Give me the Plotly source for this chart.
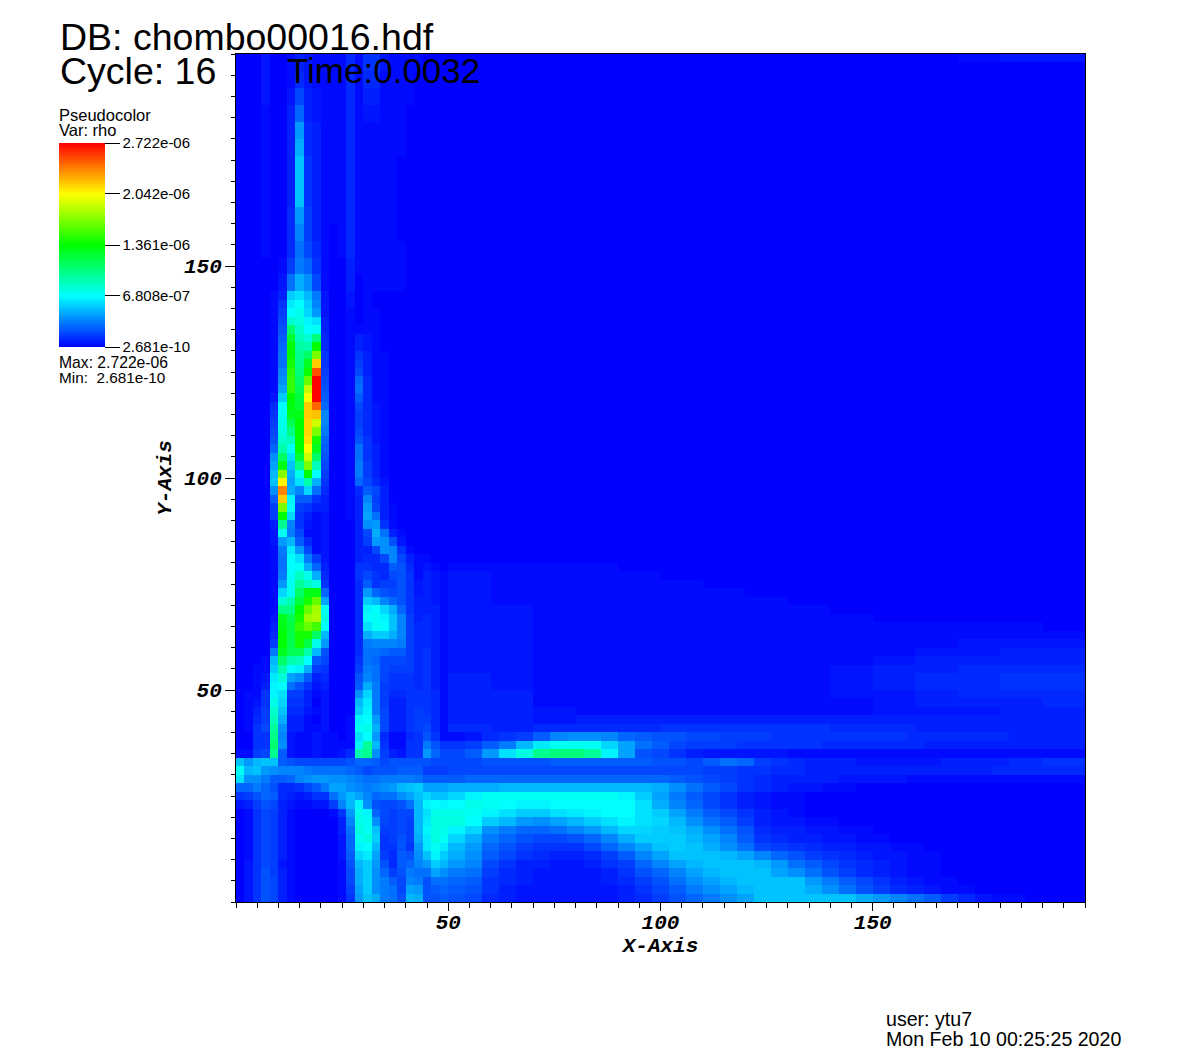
import numpy as np
import plotly.graph_objects as go

RHO_MIN = 2.681e-10
RHO_MAX = 2.722e-06
TICK_TEXT = ["2.681e-10", "6.808e-07", "1.361e-06", "2.042e-06", "2.722e-06"]
AXIS_TICKS = [50, 100, 150]

UPPER_LEFT = [
[0,0,0,2,0,0,1,3,2,1,1,1,1,4,1,5,5,2,1,1,1,1],
[0,0,0,2,0,0,1,4,2,1,1,1,1,4,1,4,4,1,1,1,1],
[0,0,0,2,0,0,2,7,3,2,1,1,1,4,1,3,3,1,1,1,1],
[0,0,0,1,0,0,3,10,3,2,1,1,1,4,1,2,2,1,1,1],
[0,0,0,1,0,0,3,15,4,3,1,1,1,4,1,1,1,1,1,1],
[0,0,0,1,0,0,3,17,4,3,1,1,1,4,1,1,1,1,1,1],
[0,0,0,1,0,0,3,19,5,3,1,1,1,4,1,1,1,1,1],
[0,0,0,1,0,0,3,19,5,3,1,1,1,4,1,1,1,1,1],
[0,0,0,1,0,0,3,19,5,3,1,1,1,4,1,1,1,1,1],
[0,0,0,1,0,0,4,15,6,3,1,1,1,4,1,1,1,1,1],
[0,0,0,1,0,0,4,13,6,3,1,0,1,4,1,1,1,1,1],
[0,0,0,1,0,0,4,11,7,4,1,0,1,4,1,1,1,1,1,1],
[0,0,0,0,0,1,6,12,10,5,1,0,0,3,1,1,1,1,1,1],
[0,0,0,0,0,2,11,17,14,7,1,0,0,3,0,1,1,1,1,1],
[0,0,0,0,1,3,20,22,18,12,2,0,0,2,0,1],
[0,0,0,0,1,5,23,25,20,13,2,0,0,2,0,1],
[0,0,0,0,1,6,25,27,21,15,2,0,0,1,0,1,1],
[0,0,0,0,1,7,30,28,24,22,3,0,0,1,0,1,1],
[0,0,0,0,1,8,39,30,25,26,3,0,0,1,1,1,1],
[0,0,0,0,1,9,45,32,29,38,4,0,0,1,3,2,1],
[0,0,0,0,1,10,50,34,33,50,4,0,0,1,3,2,1],
[0,0,0,0,1,11,50,36,40,62,5,0,0,1,5,3,1,1],
[0,0,0,0,1,11,52,37,47,80,5,0,0,1,6,3,1,1],
[0,0,0,0,1,13,54,38,51,92,6,0,0,1,7,3,1,1],
[0,0,0,0,1,14,55,40,60,100,7,0,0,1,10,4,1,1],
[0,0,0,0,1,16,55,42,69,100,8,0,0,1,11,4,1,1],
[0,0,0,0,2,20,50,44,74,100,9,0,0,1,9,4,1,1],
[0,0,0,0,4,25,49,45,80,90,10,0,0,1,7,4,2,1],
[0,0,0,0,5,26,47,48,80,81,13,0,0,1,6,4,2,1],
[0,0,0,0,6,27,42,50,79,70,13,0,0,1,6,4,2,1],
[0,0,0,0,7,28,37,50,79,62,12,0,0,1,7,4,2,1],
[0,0,0,0,8,30,32,50,78,52,10,0,0,1,8,5,2,1],
[0,0,0,0,10,33,26,50,75,47,9,0,0,1,11,5,3,1],
[0,0,0,0,14,40,22,45,70,40,8,0,0,1,11,5,3,1],
[0,0,0,0,16,48,19,37,62,32,7,0,0,1,12,6,3,1],
[0,0,0,0,18,63,17,27,50,25,6,0,0,1,12,6,3,1],
[0,0,0,0,19,76,16,22,33,17,5,0,0,1,10,7,4,2],
[0,0,0,0,14,87,17,13,21,11,4,0,0,1,4,9,7,3],
[0,0,0,0,9,80,24,9,9,5,3,0,0,1,3,13,6,3],
[0,0,0,0,6,62,25,6,5,3,3,0,0,1,3,15,7,3,1],
[0,0,0,0,6,50,21,5,3,1,2,0,0,1,3,16,11,3,1],
[0,0,0,0,3,36,13,5,2,1,2,0,0,0,3,14,15,5,1],
[0,0,0,0,2,26,12,7,1,1,2,0,0,0,3,7,17,11,3,1],
[0,0,0,0,2,15,18,9,4,1,2,0,0,0,3,6,15,14,8,2],
[0,0,0,0,1,12,23,15,7,1,2,0,0,0,3,3,7,14,13,5,1],
[0,0,0,0,1,11,25,22,12,6,2,0,0,0,3,4,4,7,13,7,3,1,1],
[0,0,0,0,1,11,25,26,17,10,3,0,0,0,5,5,4,4,9,8,4,1,2,1],
[0,0,0,0,1,12,26,31,27,17,4,0,0,0,5,7,5,4,7,8,5,1,3,2,1],
[0,0,0,0,1,15,26,35,31,28,5,0,0,0,4,9,5,6,6,8,5,2,3,2,1],
[0,0,0,0,1,21,26,40,48,48,10,0,0,0,4,15,10,8,7,8,5,2,3,2,1],
[0,0,0,0,1,29,33,44,52,60,16,0,0,0,4,20,18,13,10,8,5,3,3,2,1],
[0,0,0,0,1,37,37,50,60,66,26,0,0,0,4,24,25,21,17,10,5,3,3,3,1],
[0,0,0,0,2,47,42,52,65,67,28,0,0,0,4,25,26,24,19,13,6,3,4,3,1],
[0,0,0,0,3,48,44,55,60,56,25,0,0,0,4,22,26,25,19,13,6,4,4,3,1],
[0,0,0,0,4,50,43,52,52,40,18,0,0,0,4,17,20,20,17,13,6,4,4,3,1],
[0,0,0,0,6,50,42,52,43,27,15,0,0,0,4,12,13,13,13,12,6,4,4,3,1],
[0,0,0,0,12,47,42,42,33,18,8,0,0,0,4,11,11,10,9,9,6,4,5,3,1],
[0,0,0,1,18,40,33,32,25,9,7,0,0,0,5,11,10,7,7,7,6,4,5,3,1],
[0,0,1,1,20,33,25,24,17,6,5,0,0,0,6,12,11,7,6,6,6,4,5,3,1],
[0,0,1,2,23,29,16,14,9,3,4,0,0,0,8,13,11,7,5,5,5,4,5,3,1],
[0,0,1,3,24,25,11,8,5,2,3,0,0,0,9,17,12,6,5,5,5,4,5,3,1],
[0,1,1,5,24,22,6,6,3,1,2,0,0,0,14,21,12,6,4,4,5,5,5,4,1],
[0,1,2,5,27,21,5,5,3,0,2,0,0,0,18,23,12,6,3,3,5,5,5,4,1],
[0,1,3,6,30,19,4,4,2,1,2,0,0,0,20,24,12,7,3,3,5,6,5,4,1],
[0,1,4,6,32,17,3,3,1,0,2,0,0,1,24,25,15,7,3,3,5,6,6,4,1],
[0,1,5,7,35,14,3,3,1,1,2,0,0,1,26,27,17,7,3,3,5,6,7,4,1],
]

UPPER_RIGHT = [
[0,0,0,0,0,0,0,0,0,0,0,0,1,2,2],
[0],
[0],
[1,1,1,1],
[2,1,1,1,1],
[2,1,1,1,1,1],
[2,1,1,1,1,1,1],
[2,1,1,1,1,1,1,1],
[2,2,1,1,1,1,1,1,1],
[2,2,1,1,1,1,1,1,1,1],
[2,2,1,1,1,1,1,1,1,1,1,1,1,1],
[2,2,1,1,1,1,1,1,1,1,1,1,1,1,1],
[2,2,1,1,1,1,1,1,1,1,1,1,2,2,2],
[2,2,1,1,1,1,1,1,1,1,1,2,2,3,3],
[2,2,1,1,1,1,1,1,1,1,2,3,3,3,3],
[2,2,1,1,1,1,1,1,1,2,3,3,4,4,4],
[3,2,1,1,1,1,1,1,1,2,3,4,4,5,5],
[3,2,1,1,1,1,1,1,1,2,3,4,4,5,5],
[3,3,1,1,1,1,1,1,1,2,2,3,4,4,4],
[3,3,1,1,1,1,1,1,1,1,2,3,3,3,4],
[3,3,2,1,1,1,1,1,1,1,2,2,2,3,3],
[3,3,2,3,3,3,3,3,3,3,3,3,3,3,3],
[4,3,4,4,4,5,5,5,5,4,4,3,3,3,3],
]

BOTTOM_LEFT = [
[0,0,5,5,37,13,2,1,1,2,1,1,0,1,22,25,15,4,1,1,4,5,8,5,1],
[0,0,5,5,39,14,2,1,1,2,1,1,1,1,24,35,18,5,1,1,5,5,12,8,5],
[1,1,6,7,36,9,2,1,1,2,1,1,2,4,33,36,14,6,3,2,5,5,15,10,7],
[19,15,18,19,19,9,8,7,7,7,7,7,7,8,10,10,9,7,8,8,8,8,8,7,7],
[26,18,19,15,14,13,13,13,12,11,11,11,11,10,9,7,8,8,8,9,9,9,6,6,6],
[22,14,14,12,9,9,10,13,14,15,15,14,14,13,12,11,11,12,12,12,12,11,9,9,9],
[10,10,12,10,8,4,4,5,7,9,12,16,16,14,13,12,13,14,15,18,19,20,16,16,16],
[5,6,8,10,9,4,3,2,3,5,5,11,15,18,16,13,10,11,11,14,16,19,21,19,19],
[2,3,6,8,7,3,2,1,1,2,2,6,13,18,24,14,8,7,7,8,11,18,24,25,24],
[0,1,5,7,6,3,1,0,0,0,0,1,5,15,27,24,10,7,6,7,7,18,22,27,27],
[0,1,5,7,6,3,1,0,0,0,0,0,3,13,27,26,14,7,6,7,6,18,23,28,28],
[0,1,5,7,6,3,1,0,0,0,0,0,3,11,28,26,19,6,6,7,6,18,24,28,27],
[0,1,5,7,6,3,1,0,0,0,0,0,2,10,26,28,20,5,6,8,6,17,23,28,26],
[0,1,5,7,6,3,1,0,0,0,0,0,2,10,24,25,18,5,5,8,5,15,23,26,23],
[0,1,5,7,6,3,1,0,0,0,0,0,2,9,21,23,16,6,4,9,8,14,19,24,20],
[0,2,5,7,6,2,1,0,0,0,0,0,1,8,18,20,15,8,4,9,10,13,15,20,18],
[0,2,5,8,6,3,1,0,0,0,0,0,1,7,17,20,14,10,6,8,12,11,11,16,14],
[0,2,5,8,7,3,1,0,0,0,0,0,1,7,17,20,14,12,9,7,13,12,8,11,11],
[0,2,5,8,7,3,1,0,0,0,0,0,1,6,16,20,14,12,11,7,16,15,8,9,10],
[0,2,5,8,7,3,1,0,0,0,0,0,1,5,15,19,17,12,11,8,18,17,8,8,9],
]

BOTTOM_RIGHT = [
[1,2,4,5,6,9,13,14,14,13,10,9,8,8,7,7,6,6,6,5,5,5,5,5,5,5,5,4,4,4,4,4,4,3,3,3],
[5,6,9,12,18,23,26,26,26,21,16,11,9,7,6,6,6,5,5,5,5,5,4,4,4,4,4,4,3,3,3,3,3,3,3,3],
[7,9,15,22,28,36,38,38,35,24,16,8,7,5,3,2,2,2,2,2,1,1,1,1,1,1,1,1,1,1,1,1,1,1,1,1],
[7,7,8,8,8,8,9,9,9,9,9,9,8,8,7,9,11,10,6,5,4,3,3,3,2,2,2,2,2,3,3,3,3,4,4,5],
[7,7,7,7,7,7,7,7,7,7,7,7,7,7,7,6,6,5,5,4,4,3,3,3,3,3,3,3,3,3,3,3,4,4,4,4],
[9,10,10,10,10,10,10,10,10,10,10,10,10,9,8,7,6,5,4,3,3,3,3,2,2,2,2,1,1,1,1,1,1,1,1,1],
[17,17,17,18,18,18,18,18,18,18,18,18,17,14,11,9,7,5,4,3,2,2,1,1],
[21,24,26,26,26,26,26,26,26,26,24,20,16,12,9,7,5,3,2,1,1],
[25,27,26,25,24,24,25,25,25,25,25,22,17,13,10,7,5,3,2,1,1],
[27,26,24,22,20,20,22,23,24,25,25,22,20,16,12,9,7,5,3,2,1],
[28,25,20,18,15,14,16,18,20,22,24,22,21,18,14,11,9,6,3,2,2,1,1],
[24,21,14,12,10,10,11,13,15,18,21,21,20,19,17,14,11,8,4,3,3,2,2,1,1],
[21,17,12,10,8,7,7,8,10,13,17,20,20,20,18,16,13,9,5,4,3,3,2,2,1,1],
[18,15,10,8,6,5,5,5,7,10,13,16,19,20,19,17,14,11,7,6,5,4,3,3,2,2,1,1],
[17,14,9,7,5,4,3,3,4,6,9,13,16,19,19,19,18,16,13,10,8,6,5,4,3,2,2,1,1],
[15,13,7,5,3,3,2,2,3,5,6,10,13,16,18,19,19,19,18,15,11,9,7,5,4,3,2,1,1],
[12,11,6,4,3,2,2,2,2,3,5,8,10,13,16,18,19,19,19,16,14,11,8,6,4,3,2,1,1],
[10,9,5,4,3,2,2,2,2,3,4,6,8,11,14,16,18,19,19,19,19,15,12,9,7,5,3,2,1,1],
[9,8,5,3,2,2,2,2,2,2,3,5,7,9,12,14,16,18,19,19,19,17,14,11,8,6,4,3,2,1,1],
[8,7,4,3,2,2,2,2,2,2,3,4,6,8,10,12,14,16,19,19,19,19,19,19,17,15,13,11,9,6,4,2,1,1],
]

X_LEFT = list(range(0, 51, 2))
X_UPPER_RIGHT = list(range(50, 201, 10))
X_LOWER_RIGHT = list(range(50, 191, 4)) + [200]
Y_UPPER_LEFT = list(range(200, 143, -4)) + list(range(142, 39, -2))
Y_UPPER_RIGHT = [200, 198, 190] + list(range(80, 39, -2))
Y_BOTTOM = list(range(40, -1, -2))
X_EDGES = list(range(0, 201, 2))
Y_EDGES = list(range(0, 201, 2))

# One field on the common 2-unit mesh, each block spread over the mesh cells it covers.
field = np.zeros((len(Y_EDGES) - 1, len(X_EDGES) - 1))


def place(rows, xs, ys):
    for i, row in enumerate(rows):
        row = row + [0] * (len(xs) - 1 - len(row))
        for j, value in enumerate(row):
            field[ys[i + 1] // 2:ys[i] // 2, xs[j] // 2:xs[j + 1] // 2] = value


place(UPPER_LEFT, X_LEFT, Y_UPPER_LEFT)
place(UPPER_RIGHT, X_UPPER_RIGHT, Y_UPPER_RIGHT)
place(BOTTOM_LEFT, X_LEFT, Y_BOTTOM)
place(BOTTOM_RIGHT, X_LOWER_RIGHT, Y_BOTTOM)

fig = go.Figure(go.Heatmap(x=X_EDGES, y=Y_EDGES, z=RHO_MIN + field / 100 * (RHO_MAX - RHO_MIN),
                           coloraxis="coloraxis", zsmooth=False, hoverinfo="skip"))

L, T, R, B = 236, 54, 1085, 902
SANS = "Liberation Sans"
MONO = dict(family="Liberation Mono", size=21, color="black", weight="bold", style="italic")


def note(text, px, py, size):
    fig.add_annotation(text=text, x=(px - L) / (R - L), y=(B - py) / (B - T), xref="paper", yref="paper",
                       xanchor="left", yanchor="middle", showarrow=False, align="left",
                       borderpad=0, font=dict(family=SANS, size=size, color="black"))


note("DB: chombo00016.hdf", 59, 37, 37.5)
note("Cycle: 16", 59, 71, 37.5)
note("Time:0.0032", 286, 71, 35)
note("Pseudocolor", 58, 115, 16.5)
note("Var: rho", 58, 130, 16.5)
note("Max: 2.722e-06", 58, 362, 15.7)
note("Min:\u00a0 2.681e-10", 58, 377, 15.3)
note("user: ytu7", 885, 1019, 19.6)
note("Mon Feb 10 00:25:25 2020", 885, 1039, 19.6)


def axis(title, ticklen, minorlen, standoff, label_shift):
    return dict(range=[0, 200], tickmode="array", tickvals=AXIS_TICKS, ticktext=[str(v) for v in AXIS_TICKS],
                ticks="outside", ticklen=ticklen, tickwidth=1, tickcolor="black", tickfont=MONO,
                ticklabelstandoff=label_shift,
                minor=dict(tickmode="linear", tick0=0, dtick=5, ticks="outside", ticklen=minorlen,
                           tickwidth=1, tickcolor="black"),
                showline=True, linewidth=1, linecolor="black", mirror=True, showgrid=False, zeroline=False,
                title=dict(text=title, font=MONO, standoff=standoff), automargin=False)


fig.update_layout(
    width=1182, height=1062, paper_bgcolor="white", plot_bgcolor="#0000ff", showlegend=False,
    margin=dict(l=L, r=1182 - R, t=T, b=1062 - B, pad=0, autoexpand=False),
    xaxis=axis("X-Axis", 8, 5, 2, -7),
    yaxis=axis("Y-Axis", 10, 4, 6, -1),
    coloraxis=dict(
        cmin=RHO_MIN, cmax=RHO_MAX,
        colorscale=[[0, "#0000ff"], [0.25, "#00ffff"], [0.5, "#00ff00"], [0.75, "#ffff00"], [1, "#ff0000"]],
        colorbar=dict(
            x=(59 - L) / (R - L), xanchor="left", xpad=0, y=(B - 143) / (B - T), yanchor="top", ypad=0,
            thickness=46, thicknessmode="pixels", len=204, lenmode="pixels", outlinewidth=0,
            tickmode="array", tickvals=[RHO_MIN, 6.808e-07, 1.361e-06, 2.042e-06, RHO_MAX], ticktext=TICK_TEXT,
            ticks="outside", ticklen=15, tickwidth=1, tickcolor="black",
            tickfont=dict(family=SANS, size=15, color="black"),
        ),
    ),
)
fig.write_html("out.html", config={"displayModeBar": False},
               post_script="document.body.style.margin='0';document.body.style.overflow='hidden';")
